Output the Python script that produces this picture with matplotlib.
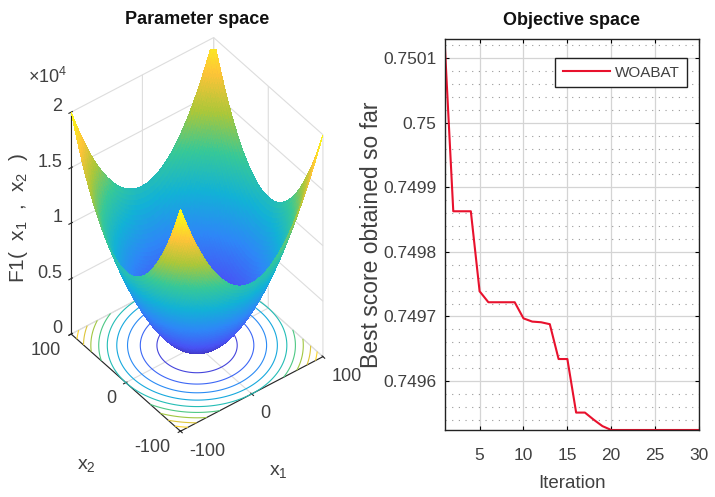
import numpy as np
import matplotlib
matplotlib.use("Agg")
import matplotlib.pyplot as plt
from matplotlib.colors import LinearSegmentedColormap, Normalize
from matplotlib.ticker import MultipleLocator

plt.rcParams["font.family"] = ["Liberation Sans", "DejaVu Sans"]
plt.rcParams["mathtext.fontset"] = "custom"
plt.rcParams["mathtext.rm"] = "Liberation Sans"
plt.rcParams["mathtext.it"] = "Liberation Sans"
plt.rcParams["mathtext.default"] = "regular"
plt.rcParams["axes.unicode_minus"] = False

# parula anchor colours
PARULA = [(0.2422, 0.1504, 0.6603), (0.2810, 0.3228, 0.9579), (0.1786, 0.5289, 0.9682),
          (0.0689, 0.6948, 0.8394), (0.2161, 0.7843, 0.5923), (0.6720, 0.7793, 0.2227),
          (0.9970, 0.7659, 0.2199), (0.9769, 0.9839, 0.0805)]

x1_ticks = [-100, 0, 100]
x2_ticks = [-100, 0, 100]
z_ticks = [0, 5000, 10000, 15000, 20000]
z_labels = ["0", "0.5", "1", "1.5", "2"]
contour_levels = list(range(2000, 20001, 2000))

iterations = list(range(1, 31))
best_score = [0.75013, 0.749863, 0.749863, 0.749863, 0.749739, 0.749722, 0.749722,
              0.749722, 0.749722, 0.749697, 0.749692, 0.749691, 0.749688, 0.749634,
              0.749634, 0.749551, 0.749551, 0.74954, 0.74953, 0.749524, 0.749524,
              0.749524, 0.749524, 0.749524, 0.749524, 0.749524, 0.749524, 0.749524,
              0.749524, 0.749524]
iter_ticks = [5, 10, 15, 20, 25, 30]
score_ticks = [0.7496, 0.7497, 0.7498, 0.7499, 0.75, 0.7501]
score_labels = ["0.7496", "0.7497", "0.7498", "0.7499", "0.75", "0.7501"]

TXT = "#404040"
W, H = 715, 497


def plot_param_space(fig):
    ax = fig.add_axes([0.0014, 0.038, 0.534, 0.96], projection="3d", computed_zorder=False)
    ax.set_proj_type("ortho")
    ax.view_init(elev=43, azim=-127.5)
    ax.set_box_aspect((1, 1, 1.69), zoom=1.006)
    ax.patch.set_alpha(0)

    cmap = LinearSegmentedColormap.from_list("parula", PARULA)
    norm = Normalize(0, 20000)
    g = np.arange(-100, 101, 2)
    x1, x2 = np.meshgrid(g, g)
    z = x1 ** 2 + x2 ** 2  # F1 sphere function

    ax.contour(x1, x2, z, levels=contour_levels, zdir="z", offset=0, cmap=cmap, norm=norm,
               linewidths=0.8, zorder=1)
    ax.plot_surface(x1, x2, z, facecolors=cmap(norm(z)), rstride=1, cstride=1, linewidth=0,
                    antialiased=False, shade=False, zorder=2)

    ax.set_xlim(-100, 100)
    ax.set_ylim(-100, 100)
    ax.set_zlim(0, 20000)
    ax.set_xticks(x1_ticks)
    ax.set_yticks(x2_ticks)
    ax.set_zticks(z_ticks)
    ax.set_zticklabels(z_labels)
    for axis in (ax.xaxis, ax.yaxis, ax.zaxis):
        axis.set_rotate_label(False)
        axis.set_pane_color((1, 1, 1, 0))
        axis.pane.set_edgecolor("#dddddd")
        axis.line.set_color("#262626")
        axis._axinfo["grid"].update(color="#dddddd", linewidth=0.8)
    ax.set_xlabel("x$_1$", fontsize=14, color=TXT, labelpad=14)
    ax.set_ylabel("x$_2$", fontsize=14, color=TXT, labelpad=19)
    ax.set_zlabel("F1(  x$_1$  ,  x$_2$  )", fontsize=15, color=TXT, labelpad=9, rotation=90)
    ax.tick_params(labelsize=13, labelcolor=TXT, color="#262626")
    ax.tick_params(axis="x", pad=3)
    ax.tick_params(axis="y", pad=2)
    ax.tick_params(axis="z", pad=-3)
    for t in ax.get_xticklabels():
        t.set_ha("left")
        t.set_va("baseline")
    for t in ax.get_yticklabels():
        t.set_ha("right")
        t.set_va("baseline")
    for t in ax.get_zticklabels():
        t.set_ha("right")
        t.set_va("baseline")
    fig.text(48 / W, 1 - 77 / H, r"$\times$10$^4$", fontsize=13, color=TXT, ha="center", va="center")
    fig.text(197 / W, 1 - 20 / H, "Parameter space", fontsize=13, fontweight="bold",
             color="#111111", ha="center", va="center")


def plot_objective(fig):
    left, right, top, bottom = 444.5, 699, 39, 430
    ax = fig.add_axes([left / W, 1 - bottom / H, (right - left) / W, (bottom - top) / H])
    ax.plot(iterations, best_score, color="#e8112d", linewidth=1.5, label="WOABAT")
    ax.set_xlim(1, 30)
    ax.set_ylim(0.749524, 0.75013)
    ax.set_xticks(iter_ticks)
    ax.set_yticks(score_ticks)
    ax.set_yticklabels(score_labels)
    ax.yaxis.set_minor_locator(MultipleLocator(0.00002))
    ax.grid(True, which="major", color="#d4d4d4", linewidth=0.9)
    ax.grid(True, which="minor", axis="y", color="#999999", linewidth=0.8, linestyle=(0, (1, 5)))
    ax.set_axisbelow(True)
    ax.tick_params(which="major", direction="in", top=True, right=True, length=3,
                   labelsize=12.5, labelcolor=TXT)
    ax.tick_params(axis="x", which="major", pad=13)
    ax.tick_params(axis="y", which="major", pad=6)
    ax.tick_params(which="minor", length=0)
    for s in ax.spines.values():
        s.set_color("#222222")
        s.set_linewidth(1.0)
    ax.set_xlabel("Iteration", fontsize=13.5, color=TXT, va="center")
    ax.xaxis.set_label_coords(0.5, -0.138)
    ax.set_ylabel("Best score obtained so far", fontsize=16.5, color=TXT, va="center")
    ax.yaxis.set_label_coords(-0.285, 0.5)
    ax.set_title("Objective space", fontsize=13, fontweight="bold", color="#111111", pad=10)
    leg = ax.legend(loc="upper right", bbox_to_anchor=(687 / W, 1 - 58 / H), bbox_transform=fig.transFigure,
                    fontsize=11, fancybox=False, framealpha=1, edgecolor="#222222", borderaxespad=0,
                    handlelength=3.1, handletextpad=0.3, borderpad=0.5)
    leg.get_frame().set_linewidth(1.0)
    for t in leg.get_texts():
        t.set_color(TXT)


def _main():
    fig = plt.figure(figsize=(W / 100, H / 100), dpi=100)
    plot_param_space(fig)
    plot_objective(fig)
    fig.savefig("out.png", dpi=100)


if __name__ == "__main__":
    _main()
